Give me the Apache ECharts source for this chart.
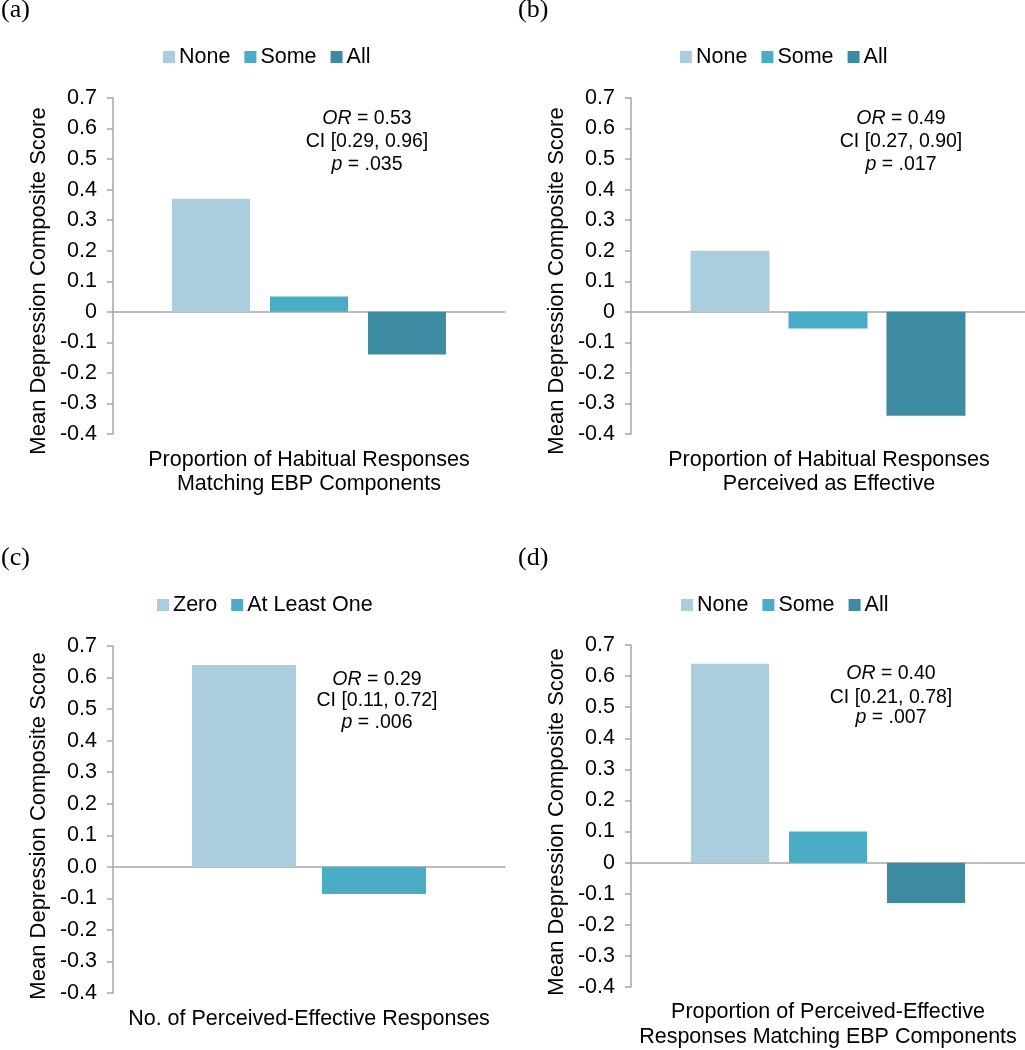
<!DOCTYPE html>
<html>
<head>
<meta charset="utf-8">
<script src="https://cdn.jsdelivr.net/npm/echarts@6/dist/echarts.min.js"></script>
<style>
html,body{margin:0;padding:0;background:#fff;}
#chart{width:1025px;height:1050px;}
</style>
</head>
<body>
<div id="chart"></div>
<script>
// ---- data ----
const groups3 = ['None', 'Some', 'All'];
const groupsC = ['Zero', 'At Least One'];
const valuesA = [0.37, 0.05, -0.14];
const valuesB = [0.20, -0.055, -0.34];
const valuesC = [0.64, -0.086];
const valuesD = [0.64, 0.10, -0.13];
const yMin = -0.4, yMax = 0.7, yStep = 0.1;
const yTitle = 'Mean Depression Composite Score';
const xTitleA = ['Proportion of Habitual Responses', 'Matching EBP Components'];
const xTitleB = ['Proportion of Habitual Responses', 'Perceived as Effective'];
const xTitleC = ['No. of Perceived-Effective Responses'];
const xTitleD = ['Proportion of Perceived-Effective', 'Responses Matching EBP Components'];
const statsA = ['0.53', '[0.29, 0.96]', '.035'];
const statsB = ['0.49', '[0.27, 0.90]', '.017'];
const statsC = ['0.29', '[0.11, 0.72]', '.006'];
const statsD = ['0.40', '[0.21, 0.78]', '.007'];
const panelLabels = ['(a)', '(b)', '(c)', '(d)'];

const colors = ['#AACEDD', '#4BACC6', '#3C8BA0'];
const SANS = '"Liberation Sans", Arial, sans-serif';
const SERIF = '"Liberation Serif", "Times New Roman", serif';
const AXIS_COLOR = '#A6A6A6';

const panels = [
  {grid:{left:113, top:98, width:392, height:336}, names:groups3, values:valuesA, barWidth:78, barGap:'25.6%',
   legend:{left:158, top:41}, yName:{x:39, y:281}, xTitle:xTitleA, xTitleX:309, xTitleY:[460, 484.5],
   stats:statsA, statsX:367, statsY:[119, 142, 165], label:{x:1, y:10}, fixed:false},
  {grid:{left:631, top:98, width:395, height:336}, names:groups3, values:valuesB, barWidth:79, barGap:'24%',
   legend:{left:675, top:41}, yName:{x:557, y:281}, xTitle:xTitleB, xTitleX:829, xTitleY:[460, 484.5],
   stats:statsB, statsX:901, statsY:[119, 142, 165], label:{x:518, y:10}, fixed:false},
  {grid:{left:113, top:646, width:392, height:347}, names:groupsC, values:valuesC, barWidth:104, barGap:'25%',
   legend:{left:152, top:589}, yName:{x:39, y:826}, xTitle:xTitleC, xTitleX:309, xTitleY:[1019],
   stats:statsC, statsX:377, statsY:[680, 701, 722.5], label:{x:1, y:558}, fixed:true},
  {grid:{left:631, top:645, width:394, height:342}, names:groups3, values:valuesD, barWidth:78, barGap:'25.6%',
   legend:{left:676, top:589}, yName:{x:557, y:822}, xTitle:xTitleD, xTitleX:828, xTitleY:[1012.5, 1037.5],
   stats:statsD, statsX:891, statsY:[674, 698, 718], label:{x:518, y:558}, fixed:false}
];

const option = {
  animation: false,
  backgroundColor: '#ffffff',
  grid: [], xAxis: [], yAxis: [], series: [], legend: [], graphic: []
};

panels.forEach((p, i) => {
  option.grid.push(Object.assign({containLabel:false}, p.grid));
  option.xAxis.push({
    type:'category', gridIndex:i, data:[''],
    axisLine:{show:true, onZero:true, lineStyle:{color:AXIS_COLOR, width:1.5}},
    axisTick:{show:false}, axisLabel:{show:false}, splitLine:{show:false}
  });
  option.yAxis.push({
    type:'value', gridIndex:i, min:yMin, max:yMax, interval:yStep,
    axisLine:{show:true, lineStyle:{color:AXIS_COLOR, width:1.5}},
    axisTick:{show:true, length:6, lineStyle:{color:AXIS_COLOR, width:1.5}},
    splitLine:{show:false},
    axisLabel:{
      margin:16, color:'#000', fontSize:21.5, fontFamily:SANS,
      formatter: p.fixed ? (v => (Math.round(v*10)/10).toFixed(1))
                         : (v => String(Math.round(v*10)/10))
    }
  });
  p.names.forEach((n, k) => {
    option.series.push({
      type:'bar', name:n, xAxisIndex:i, yAxisIndex:i,
      data:[p.values[k]], barWidth:p.barWidth, barGap:p.barGap,
      itemStyle:{color:colors[k]}
    });
  });
  option.legend.push({
    left:p.legend.left, top:p.legend.top, data:p.names.slice(),
    icon:'rect', itemWidth:12, itemHeight:12, itemGap:14, selectedMode:false,
    textStyle:{fontSize:21.5, fontFamily:SANS, color:'#000', padding:[0,0,0,-1]}
  });
  // panel label
  option.graphic.push({type:'text', x:p.label.x, y:p.label.y,
    style:{text:panelLabels[i], font:'26px ' + SERIF, fill:'#000', align:'left', verticalAlign:'middle'}});
  // y axis title
  option.graphic.push({type:'text', x:p.yName.x, y:p.yName.y, rotation:Math.PI/2,
    style:{text:yTitle, font:'22px ' + SANS, fill:'#000', align:'center', verticalAlign:'middle'}});
  // x axis title lines
  p.xTitle.forEach((t, j) => {
    option.graphic.push({type:'text', x:p.xTitleX, y:p.xTitleY[j],
      style:{text:t, font:'21.5px ' + SANS, fill:'#000', align:'center', verticalAlign:'middle'}});
  });
  // stats annotation
  const statLines = ['{i|OR} = ' + p.stats[0], 'CI ' + p.stats[1], '{i|p} = ' + p.stats[2]];
  statLines.forEach((t, j) => {
    option.graphic.push({type:'text', x:p.statsX, y:p.statsY[j],
      style:{text:t, fontSize:19.5, fontFamily:SANS, fill:'#000', align:'center', verticalAlign:'middle',
        rich:{i:{fontStyle:'italic', fontSize:19.5, fontFamily:SANS, fill:'#000'}}}});
  });
});

const chart = echarts.init(document.getElementById('chart'), null, {renderer:'canvas'});
chart.setOption(option);
</script>
</body>
</html>
